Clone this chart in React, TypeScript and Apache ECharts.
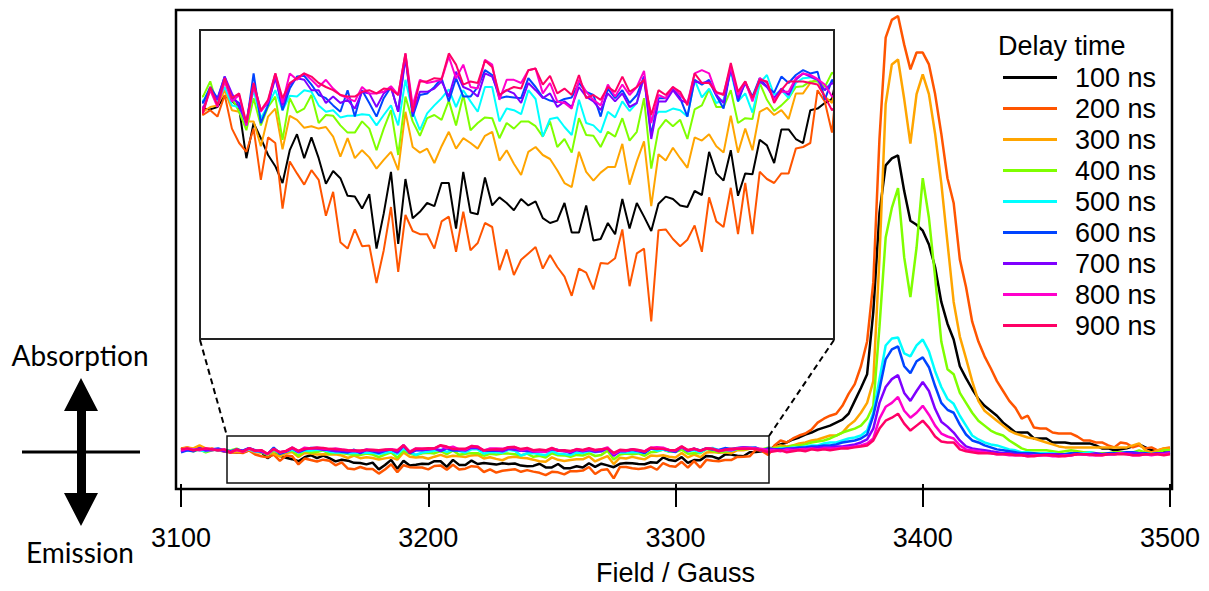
import React, { useEffect, useRef } from "react";
import * as echarts from "echarts";

// Field axis sampling (Gauss)
const FIELD_START = 3100;
const FIELD_STEP = 2.5;
const X_TICKS = [3100, 3200, 3300, 3400, 3500];
const INSET_RANGE = [3120, 3337.5];

const DELAYS = ["100 ns", "200 ns", "300 ns", "400 ns", "500 ns", "600 ns", "700 ns", "800 ns", "900 ns"];
const COLORS = ["#000000", "#FF5500", "#FFA500", "#7FFF00", "#00FFFF", "#0044FF", "#7F00FF", "#FF00CC", "#FF0066"];

// Signal (arb. units), one value per field step, 3100 → 3500 G
const S100 = [
  1, 2, 0, 1, -1, 1, 0, -1,
  -1.7, -1.8, -1.5, -0.1, -0.7, -1.7, -7.9, -3.5, -5.4, -7.5, -8.9, -11.0, -6.9, -4.9, -7.9, -5.3, -7.9, -11.1, -9.5, -10.4, -12.6, -12.7, -14.2, -12.4, -19.2, -14.8, -9.6, -18.6, -10.5, -15.4, -14.6, -13.5, -13.9, -11.0, -11.0, -16.7, -9.6, -14.7, -14.9, -10.3, -13.8, -12.8, -13.5, -14.4,
  -13.0, -13.8, -13.3, -15.4, -16.0, -15.7, -13.5, -17.2, -17.2, -13.8, -18.2, -18.0, -16.0, -17.4, -13.0, -16.7, -13.5, -15.2, -17.0, -13.6, -12.7, -13.0, -13.8, -14.0, -12.0, -12.5, -7.1, -9.8, -10.7, -6.9, -12.6, -9.8, -9.9, -5.6, -6.3, -8.5, -4.3, -4.3, -5.5, -6.0, -1.9, -1.7, -1.0, -0.5,
  4, 6, 8, 11, 13, 16, 18, 21, 23, 25, 28, 31, 37, 50, 63, 77,
  140, 240, 288, 295, 298, 262, 232, 228, 222, 208, 185, 150, 128, 112, 85, 73, 62, 52, 45, 40, 35, 28, 23, 18,
  18, 18, 12, 12, 12, 8, 8, 8, 7, 7, 7, 7, 5, 2, 2, 0, 1, 2, 4, 6, 3, 0, 0, -1, -1,
];
const S200 = [
  2, 3, 1, 4, 1, 2, 0, -1,
  -2.5, -1.9, -2.7, 0, -4.2, -6.0, -7.1, -4.2, -10.6, -5.3, -6.0, -14.2, -8.3, -9.8, -11.2, -9.4, -10.6, -15.1, -12.1, -18.4, -19.2, -16.8, -18.9, -18.8, -23.5, -19.4, -14.0, -22.1, -15.0, -17.0, -17.4, -17.4, -19.2, -15.8, -15.2, -19.6, -14.6, -19.4, -18.5, -16.0, -16.5, -21.9, -19.3, -22.5,
  -20.6, -19.8, -19.0, -21.7, -20.0, -21.5, -22.7, -25.1, -21.7, -22.2, -24.3, -21.0, -21.1, -20.4, -16.8, -23.9, -19.8, -19.2, -28.3, -16.9, -16.8, -18.0, -18.9, -18.1, -16.3, -19.6, -12.8, -15.8, -16.5, -11.6, -17.4, -11.0, -17.4, -9.6, -10.5, -11.0, -9.8, -9.8, -6.7, -6.5, -6.0, 0.6, -0.8, -4.7,
  5, 10, 8, 12, 15, 17, 21, 28, 32, 35, 37, 45, 57, 67, 85, 110, 170, 315, 417, 435, 439, 410, 385, 402, 402, 390, 360, 320, 275, 250, 193, 165, 130, 110, 95, 83, 70, 60, 50, 43, 32, 35, 23, 22, 22, 18, 17, 17, 17, 14, 10, 10, 8, 8, 5, 3, 8, 7, 3, 5, 2, 3, 0, 2, 3,
];
const S300 = [
  1, 3, 2, 5, 2, 1, 0, 0,
  -2.1, -1.5, -1.3, 0.6, -1.9, -2.1, -3.3, -3.3, -6.4, -2.7, -1.7, -6.8, -2.6, -3.1, -4.1, -3.9, -4.2, -4.0, -5.2, -7.7, -5.4, -7.9, -6.9, -7.8, -9.2, -8.1, -7.1, -9.4, -2.1, -6.5, -7.2, -6.7, -8.5, -6.4, -4.6, -6.7, -5.4, -6.0, -6.7, -5.1, -4.6, -8.2, -6.9, -8.6,
  -10.0, -7.1, -6.5, -7.5, -8.0, -9.4, -11.0, -11.5, -7.1, -9.6, -10.7, -9.7, -9.0, -9.0, -6.1, -11.2, -8.3, -5.8, -13.9, -7.4, -8.2, -6.6, -7.9, -9.1, -5.3, -5.7, -4.9, -6.4, -7.2, -2.6, -7.2, -4.2, -6.9, -2.1, -1.6, -2.5, -1.9, -3.0, 0.2, 0.2, 1.5, 2.0, -0.2, -1.0,
  3, 5, 4, 5, 7, 8, 10, 11, 13, 15, 15, 18, 25, 30, 38, 48, 70, 195, 350, 390, 395, 355, 310, 360, 380, 360, 320, 270, 210, 150, 115, 93, 70, 50, 40, 35, 30, 25, 20, 17, 15, 13, 12, 10, 8, 6, 4, 3, 3, 3, 3, 3, 3, 3, 3, 3, 3, 3, 5, 7, 0, -2, 0, 2, 2,
];
const S400 = [
  0, 1, -1, 1, -2, 0, 1, 0,
  -0.2, 1.7, -1.3, 1.7, -0.4, -2.1, -4.4, -0.4, -3.8, -1.5, -0.2, -5.6, -0.4, -2.2, -1.7, 0, -3.5, -2.5, -2.6, -3.8, -4.7, -4.7, -3.3, -4.2, -6.9, -4.2, -1.9, -7.5, -0.2, -3.3, -5.1, -2.9, -2.5, -3.1, -0.7, -3.8, 0, -4.4, -3.5, -2.8, -2.9, -5.4, -3.5, -4.2,
  -3.3, -3.3, -3.9, -5.2, -3.3, -6.5, -5.5, -7.2, -2.9, -5.0, -5.1, -6.5, -4.6, -5.2, -2.9, -5.7, -4.6, -0.4, -9.2, -4.3, -3.1, -3.9, -3.1, -5.5, -1.8, -1.3, 0.7, -1.5, -1.5, 0.6, -3.5, -2.9, -3.0, 1.5, -0.6, -2.0, -1.3, -0.4, 1.0, 1.1, 1.7, 1.7, 1.0, 2.8,
  2, 3, 3, 5, 5, 6, 8, 9, 10, 12, 15, 18,
  20, 22, 25, 32, 45, 125, 215, 245, 265, 195, 155, 205, 275, 235, 175, 110, 82, 77, 58, 48, 38, 30, 25, 20, 17, 15, 10, 6, 2,
  0, 0, 0, 0, -1, -2, -1, 0, -1, -2, -2, -3, -3, -3, -2, -2, -2, -2, 0, -2, -4, -2, 0, 0,
];
const S500 = [
  -1, 0, 1, 0, -1, 1, 0, 0,
  -0.8, 0.8, -0.8, 1.0, -1.3, -1.5, -3.5, 0.6, -2.9, -1.3, 0.6, -1.9, -0.1, -0.2, 0.6, 0.4, -1.3, -2.1, -1.9, -2.8, -2.6, -2.6, -2.4, -2.5, -3.8, -2.5, -1.3, -3.8, 1.9, -2.1, -4.4, -2.3, -1.3, -0.4, 0.7, -1.5, 0.6, -0.8, -2.1, 1.0, 1.0, -3.3, -1.7, -1.9,
  -2.4, 0.6, -0.5, -5.2, -3.0, -2.8, -4.0, -5.0, -0.6, -3.5, -3.8, -4.7, -2.1, -2.8, -0.8, -2.0, -1.0, 2.3, -3.1, -2.1, -2.1, -1.7, -1.9, -2.7, 1.9, -0.3, 0.8, -1.0, -0.6, 2.9, -0.8, 0.2, -2.2, 1.5, 2.5, 0, 0.6, -0.4, 1.5, 2.1, 2.2, 1.9, 0.6, 1.7,
  1, 2, 2, 3, 3, 4, 5, 5, 7, 8, 8, 10,
  12, 13, 15, 20, 38, 72, 106, 113, 114, 98, 95, 106, 112, 100, 80, 64, 52, 47, 35, 25, 15, 11, 8, 6, 5, 3, 1, 0,
  -2, -2, -3, -3, -3, -3, -4, -4, -3, -3, -3, -2, -3, -4, -4, -3, -3, -2, -2, -3, -3, -4, -3, -3, -2,
];
const S600 = [
  -2, 0, -1, 2, 0, 1, 2, 0,
  -1.0, 1.0, -0.4, 2.3, -0.4, -1.0, -3.8, 2.7, -3.5, -1.3, 2.5, -1.9, 0.8, 2.3, 2.4, 1.3, 0, -0.4, -1.3, -2.1, 0.6, -2.7, 0.6, -1.0, -2.7, -0.4, 1.0, -2.1, 5.0, -2.7, 0, 0.2, 1.0, 2.1, -0.8, 2.1, -0.2, -0.2, 1.0, 3.1, 2.5, -0.4, -0.2, -0.3,
  -0.4, 2.1, 1.0, -0.3, -0.7, -0.9, -0.5, -0.3, 1.5, 0.4, 0, -2.7, 0.8, -0.4, 0.6, -1.0, 0, 2.3, -5.0, -0.4, -0.4, 0.8, -0.4, -2.7, 1.9, 1.3, 1.9, -0.1, -1.7, 3.5, -0.8, 1.6, -0.2, 2.1, 1.0, 0.3, 2.3, 1.5, 2.5, 3.1, 2.7, 2.9, -0.6, 1.9,
  1, 1, 2, 2, 3, 3, 4, 4, 5, 5, 6, 8,
  9, 10, 12, 16, 35, 62, 92, 102, 105, 85, 78, 90, 94, 84, 65, 48, 41, 38, 26, 16, 10, 8, 5, 3, 1, 0,
  -1, -2, -3, -3, -3, -4, -4, -4, -4, -4, -3, -3, -4, -4, -4, -4, -3, -3, -3, -2, -2, -3, -3, -4, -3, -3, -2,
];
const S700 = [
  -1, 1, 0, 2, 0, 0, 1, -1,
  -1.7, 0.6, -0.6, 2.3, 0.2, -1.5, -3.3, 1.5, -1.9, -1.0, 2.1, -1.3, 1.3, 2.1, 1.9, 0.6, 0.6, -1.0, -0.2, -1.0, -0.6, -1.7, 0.4, 0.2, -1.5, 0.2, 1.0, -2.1, 4.6, -2.3, 0.4, 0.4, 0.8, 1.7, -0.2, 2.9, 1.0, 0.6, -0.2, 2.7, 2.3, 0, 0.6, 0.2,
  -1.0, 1.5, 0.6, -0.4, 0.2, -1.5, -0.8, -1.5, 1.0, -0.2, -0.8, -1.9, 0.2, -0.8, 0.2, -1.5, -1.0, 2.3, -5.5, -0.8, -0.8, 0.6, -0.6, -1.0, 1.7, 1.5, 1.7, 0, -1.0, 3.3, -0.4, 1.5, -0.4, 1.7, 1.0, -0.4, 0.8, 0, 1.9, 2.7, 2.3, 1.9, 0.6, 1.5,
  1, 0, 1, 2, 1, 2, 2, 3, 3, 3, 4, 4,
  5, 6, 8, 11, 22, 48, 64, 72, 76, 58, 50, 60, 69, 60, 42, 29, 24, 18, 10, 4, 2, 1, 0,
  -1, -2, -3, -3, -4, -4, -4, -5, -5, -4, -4, -4, -5, -5, -4, -4, -4, -3, -4, -4, -4, -3, -3, -3, -3, -4, -4, -3, -3, -2,
];
const S800 = [
  0, 2, 1, 0, 2, 1, 0, 1,
  -2.1, 0.6, -1.5, 1.7, -0.8, 0, -3.8, 1.0, -2.1, -0.8, 2.7, -1.0, 2.7, 1.9, 2.7, 1.9, 1.0, 1.9, 0.8, 0, -0.4, -0.8, 1.0, 0.2, 0.2, 0.4, 1.1, 0, 5.2, -1.3, 1.9, 1.5, 1.7, 1.9, 4.8, 2.1, 3.8, 1.0, 0.8, 4.4, 3.8, -0.6, 1.9, 1.9,
  1.5, 3.1, 3.3, 0.2, 1.5, -0.8, -1.0, -1.7, 1.9, 0.4, -0.6, -1.3, 1.3, -0.2, 1.3, 0, 1.0, 3.0, -3.5, 0, -0.4, 1.0, 0, -1.0, 2.7, 3.1, 2.7, 0.2, 0.2, 3.5, 0, 1.7, -0.8, 2.1, 1.5, -0.6, 0.4, 0.4, 2.1, 2.7, 2.5, 2.0, 1.3, -0.2,
  0, -1, 1, 0, 1, 1, 2, 1, 2, 2, 2, 3,
  3, 4, 5, 7, 12, 32, 44, 48, 54, 40, 33, 38, 45, 36, 25, 17, 14, 12, 5, 1, 0,
  -1, -2, -3, -4, -4, -5, -5, -5, -6, -5, -5, -5, -6, -6, -5, -5, -4, -4, -5, -5, -5, -4, -4, -3, -4, -5, -5, -4, -5, -4, -4, -3,
];
const S900 = [
  1, 2, 0, 1, 2, 1, 0, 1,
  -2.3, 1.0, -1.3, 2.1, -0.4, 0.2, -3.5, 1.5, -1.9, -0.6, 2.7, -0.4, 1.5, 2.1, 2.7, 2.3, 1.5, 1.0, 0.6, 0, -0.2, -0.2, 0.4, 0.6, 0.2, 0.8, 0.7, 0, 5.2, -2.1, 1.7, 1.7, 2.1, 2.0, 5.2, 3.8, 1.3, 1.7, 1.5, 4.3, 3.5, 0, 0.6, 1.0,
  0.8, 3.1, 3.3, 1.3, 2.4, 0.2, 0.8, 0, 2.5, -0.4, 0, -0.6, 1.0, 0.4, 2.3, 0.4, 1.0, 1.9, -2.5, 0.6, 0, 1.0, 0.4, -1.3, 2.7, 1.5, 1.5, 0.4, 0, 4.0, 0.4, 1.7, -0.4, 1.9, 1.7, -1.0, 0.6, 1.7, 1.7, 1.7, 1.5, 1.3, -0.2, -1.9,
  -1, 0, -2, -1, 0, -1, 1, 0, 1, 0, 1, 2,
  2, 3, 4, 5, 10, 22, 30, 33, 37, 27, 20, 25, 30, 23, 14, 9, 8, 8, 1, -1, -2,
  -3, -3, -3, -4, -4, -4, -5, -5, -6, -6, -5, -5, -5, -6, -6, -5, -4, -4, -4, -5, -5, -4, -4, -4, -4, -5, -5, -4, -4, -4, -5, -4,
];

const SERIES_VALUES = [S100, S200, S300, S400, S500, S600, S700, S800, S900];

const TEXT_FONT = "'Liberation Sans', Arial, sans-serif";
const NOTE_FONT = "Lato, 'Open Sans', sans-serif";

function toPairs(vals: number[]) {
  return vals.map((v, i) => [FIELD_START + i * FIELD_STEP, v]);
}

export default function App() {
  const ref = useRef<HTMLDivElement>(null);

  useEffect(() => {
    if (!ref.current) return;
    const chart = echarts.init(ref.current, undefined, { renderer: "svg" });

    const series: any[] = [];
    SERIES_VALUES.forEach((vals, k) => {
      series.push({
        type: "line",
        name: DELAYS[k],
        xAxisIndex: 0,
        yAxisIndex: 0,
        data: toPairs(vals),
        showSymbol: false,
        symbol: "none",
        lineStyle: { color: COLORS[k], width: 2.5 },
        itemStyle: { color: COLORS[k] },
        z: 2,
        silent: true,
      });
    });
    SERIES_VALUES.forEach((vals, k) => {
      series.push({
        type: "line",
        name: DELAYS[k],
        xAxisIndex: 1,
        yAxisIndex: 1,
        data: toPairs(vals),
        showSymbol: false,
        symbol: "none",
        clip: true,
        lineStyle: { color: COLORS[k], width: 2 },
        itemStyle: { color: COLORS[k] },
        z: 2,
        silent: true,
      });
    });

    const option: any = {
      animation: false,
      backgroundColor: "#ffffff",
      grid: [
        { left: 181, right: 39, top: 10, bottom: 102 },
        { left: 203, width: 629, top: 30, height: 309 },
      ],
      xAxis: [
        {
          type: "value",
          gridIndex: 0,
          min: X_TICKS[0],
          max: X_TICKS[X_TICKS.length - 1],
          interval: 100,
          axisLine: { show: false, onZero: false },
          axisTick: { show: true, length: 23, lineStyle: { color: "#000", width: 2 } },
          axisLabel: {
            fontSize: 27,
            color: "#000",
            margin: 40,
            fontFamily: TEXT_FONT,
            formatter: (v: number) => String(v),
          },
          splitLine: { show: false },
          name: "Field / Gauss",
          nameLocation: "middle",
          nameGap: 75,
          nameTextStyle: { fontSize: 27, color: "#000", fontFamily: TEXT_FONT },
        },
        {
          type: "value",
          gridIndex: 1,
          min: INSET_RANGE[0],
          max: INSET_RANGE[1],
          show: false,
          axisLine: { onZero: false },
          splitLine: { show: false },
        },
      ],
      yAxis: [
        { type: "value", gridIndex: 0, min: -34, max: 445, show: false, splitLine: { show: false } },
        { type: "value", gridIndex: 1, min: -30.5, max: 8.125, show: false, splitLine: { show: false } },
      ],
      legend: {
        data: DELAYS,
        orient: "vertical",
        left: 1003,
        top: 62,
        padding: 0,
        itemGap: 0,
        itemWidth: 54,
        itemHeight: 3,
        icon: "rect",
        selectedMode: false,
        textStyle: { fontSize: 27, color: "#000", fontFamily: TEXT_FONT, lineHeight: 31, padding: [0, 0, 0, 13] },
      },
      graphic: [
        // main frame
        { type: "rect", z: 10, silent: true, shape: { x: 176, y: 10, width: 996, height: 479 }, style: { fill: "none", stroke: "#000", lineWidth: 2.5 } },
        // inset frame
        { type: "rect", z: 10, silent: true, shape: { x: 200, y: 30, width: 634, height: 309 }, style: { fill: "none", stroke: "#222", lineWidth: 2 } },
        // zoom box in main plot
        { type: "rect", z: 10, silent: true, shape: { x: 227, y: 436, width: 542, height: 47 }, style: { fill: "none", stroke: "#111", lineWidth: 1.5 } },
        // connectors
        { type: "line", z: 10, silent: true, shape: { x1: 200, y1: 340, x2: 227, y2: 436 }, style: { stroke: "#000", lineWidth: 2, lineDash: [6, 4] } },
        { type: "line", z: 10, silent: true, shape: { x1: 834, y1: 340, x2: 769, y2: 436 }, style: { stroke: "#000", lineWidth: 2, lineDash: [6, 4] } },
        // legend title
        { type: "text", z: 10, left: 998, top: 32, style: { text: "Delay time", fill: "#000", font: `27px ${TEXT_FONT}` } },
        // Absorption / Emission annotation
        { type: "text", z: 10, x: 80, y: 355, style: { text: "Absorption", fill: "#000", font: `28px ${NOTE_FONT}`, textAlign: "center", textVerticalAlign: "middle" } },
        { type: "text", z: 10, x: 80, y: 552, style: { text: "Emission", fill: "#000", font: `28px ${NOTE_FONT}`, textAlign: "center", textVerticalAlign: "middle" } },
        {
          type: "polygon",
          z: 10,
          silent: true,
          shape: {
            points: [
              [81, 378], [98, 411], [86, 411], [86, 493], [98, 493], [81, 526], [64, 493], [77, 493], [77, 411], [64, 411],
            ],
          },
          style: { fill: "#000" },
        },
        { type: "line", z: 10, silent: true, shape: { x1: 22, y1: 452, x2: 140, y2: 452 }, style: { stroke: "#000", lineWidth: 3 } },
      ],
      series,
    };

    chart.setOption(option);
    return () => {
      chart.dispose();
    };
  }, []);

  return (
    <div
      ref={ref}
      style={{ position: "absolute", left: 0, top: 0, width: 1209, height: 591 }}
    />
  );
}
